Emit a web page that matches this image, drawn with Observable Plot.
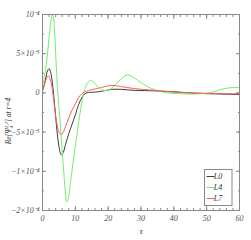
<!DOCTYPE html>
<html><head><meta charset="utf-8">
<script src="https://cdn.jsdelivr.net/npm/d3@7"></script>
<script src="https://cdn.jsdelivr.net/npm/@observablehq/plot@0.6"></script>
<style>body{margin:0;background:#fff} svg{display:block}</style>
</head><body><div id="chart"></div>
<script>
// values of Re[Psi4] in units of 1e-5
const seriesNames = ["L0", "L4", "L7"];
const seriesColors = ["#3c3c3c", "#6cf06c", "#ff5c5c"];

const L0_tau = [0,0.5,1,1.5,2,2.5,3,3.5,4,4.5,5,5.7,6.3,7,8,9,10,11,12,13,14,16,18,21,24,27,30,35,40,45,50,55,60];
const L0_re  = [0.3,1.0,1.9,2.8,3.1,2.6,1.3,-0.7,-3,-5.2,-6.8,-7.9,-7.6,-6.6,-5.2,-4,-2.8,-1.5,-0.6,-0.1,0.05,0.1,0.2,0.45,0.45,0.35,0.3,0.25,0.15,0,-0.1,-0.15,-0.2];

const L4_tau = [0,0.5,1,1.4,1.8,2.2,2.6,3,3.4,3.7,4.1,4.5,5,5.5,6,6.5,7,7.3,7.8,8.5,9.6,10.5,11.6,12.5,13.5,14.6,16,17,18,19.5,21,23,25.8,28,30,33,35,38,42,45,48,51,54,57,60];
const L4_re  = [1.1,2.0,3.2,4.5,6.2,7.8,9.3,10,9.4,7.8,4.2,1.0,-1.8,-4.4,-7.4,-10.2,-12.9,-13.9,-13.5,-11.5,-8,-5.3,-2.1,-0.1,1.1,1.6,1.2,0.7,0.4,0.3,0.6,1.4,2.3,1.9,1.3,0.6,0.3,0,-0.1,-0.15,-0.1,0,0.4,0.65,0.7];

const L7_tau = [0,0.5,1,1.7,2.3,3,3.5,4,4.5,5,5.6,6.2,7,8,9,10,11,12,13,14,16,18,21,24,28,32,36,40,45,50,55,60];
const L7_re  = [0.2,0.9,1.6,2.2,1.8,0.4,-1.2,-2.9,-4.2,-5.0,-5.3,-5.1,-4.3,-3.2,-2.2,-1.4,-0.6,-0.1,0.15,0.3,0.5,0.7,0.95,0.8,0.55,0.4,0.25,0.1,0,-0.05,-0.1,-0.1];

const xTicks = [0,10,20,30,40,50,60];
const xTickLabels = ["0","10","20","30","40","50","60"];
const xMinorTicks = [0,2,4,6,8,10,12,14,16,18,20,22,24,26,28,30,32,34,36,38,40,42,44,46,48,50,52,54,56,58,60];
const yTicks = [10,5,0,-5,-10,-15];
const yTickLabels = ["10\u207B\u2074","5\u00D710\u207B\u2075","0","\u22125\u00D710\u207B\u2075","\u22121\u00D710\u207B\u2074","\u22122\u00D710\u207B\u2074"];
const yMinorTicks = [10,7.5,5,2.5,0,-2.5,-5,-7.5,-10,-12.5,-15];

const taus = [L0_tau, L4_tau, L7_tau];
const res = [L0_re, L4_re, L7_re];
const data = [];
seriesNames.forEach((n, i) => taus[i].forEach((t, j) => data.push({series: n, tau: t, re: res[i][j]})));

const tickStroke = "#888";
const plot = Plot.plot({
  width: 251, height: 240,
  marginLeft: 42, marginRight: 12, marginTop: 14, marginBottom: 30,
  x: {domain: [0, 60]},
  y: {domain: [-15, 10]},
  color: {domain: seriesNames, range: seriesColors},
  style: {fontFamily: "'Liberation Serif', serif", fontStyle: "italic", fontSize: "8px", color: "#555", background: "#fff"},
  marks: [
    Plot.line(data, {x: "tau", y: "re", z: "series", stroke: "series", curve: "catmull-rom", strokeWidth: 1}),
    Plot.frame({stroke: tickStroke}),
    Plot.axisX(xMinorTicks, {anchor: "bottom", tickSize: -2, tickFormat: () => "", label: null, stroke: tickStroke}),
    Plot.axisX(xMinorTicks, {anchor: "top", tickSize: -2, tickFormat: () => "", label: null, stroke: tickStroke}),
    Plot.axisX(xTicks, {anchor: "bottom", tickSize: -4, tickFormat: () => "", label: null, stroke: tickStroke}),
    Plot.axisX(xTicks, {anchor: "top", tickSize: -4, tickFormat: () => "", label: null, stroke: tickStroke}),
    Plot.axisX(xTicks, {anchor: "bottom", tickSize: 0, tickPadding: 5, tickFormat: (d, i) => xTickLabels[i], label: null, fill: "#555"}),
    Plot.axisY(yMinorTicks, {anchor: "left", tickSize: -2, tickFormat: () => "", label: null, stroke: tickStroke}),
    Plot.axisY(yMinorTicks, {anchor: "right", tickSize: -2, tickFormat: () => "", label: null, stroke: tickStroke}),
    Plot.axisY(yTicks, {anchor: "left", tickSize: -4, tickFormat: () => "", label: null, stroke: tickStroke}),
    Plot.axisY(yTicks, {anchor: "right", tickSize: -4, tickFormat: () => "", label: null, stroke: tickStroke}),
    Plot.axisY(yTicks, {anchor: "left", tickSize: 0, tickPadding: 3, tickFormat: (d, i) => yTickLabels[i], label: null, fill: "#555"})
  ]
});
document.getElementById("chart").appendChild(plot);

const svg = d3.select(plot);
// x label
svg.append("text").attr("x", 141).attr("y", 234).attr("text-anchor", "middle")
  .attr("font-family", "'Liberation Serif', serif").attr("font-size", 9).attr("fill", "#333").text("\u03C4");
// y label
const yl = svg.append("text").attr("transform", "translate(11,121) rotate(-90)").attr("text-anchor", "middle")
  .attr("font-family", "'Liberation Serif', serif").attr("font-size", 7.5).attr("fill", "#333");
yl.append("tspan").text("Re[\u03A8");
yl.append("tspan").attr("font-size", 5).attr("dy", 1.5).text("4");
yl.append("tspan").attr("font-size", 5).attr("dy", -5).attr("dx", -2.5).text("2,2");
yl.append("tspan").attr("dy", 3.5).text("] at r=4");

// legend
const lg = svg.append("g");
lg.append("rect").attr("x", 204.5).attr("y", 169.5).attr("width", 27.5).attr("height", 36)
  .attr("fill", "#fff").attr("stroke", "#888");
seriesNames.forEach((n, i) => {
  const y = 176.5 + i * 11;
  lg.append("line").attr("x1", 206.5).attr("x2", 214.5).attr("y1", y).attr("y2", y)
    .attr("stroke", seriesColors[i]).attr("stroke-width", 1);
  lg.append("text").attr("x", 218).attr("y", y).attr("dy", "0.35em")
    .attr("font-family", "'Liberation Serif', serif").attr("font-style", "italic").attr("font-size", 8).attr("fill", "#333").text(n);
});
</script></body></html>
